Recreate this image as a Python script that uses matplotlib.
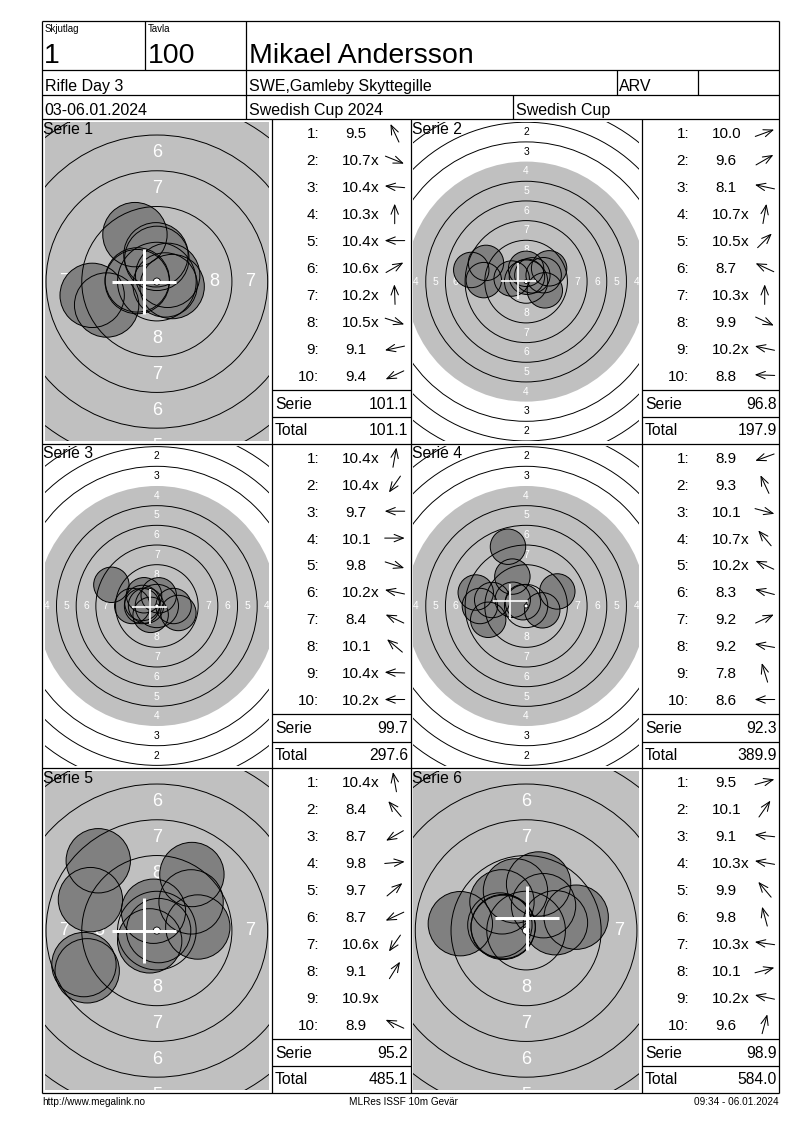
import numpy as np
import matplotlib.pyplot as plt
from matplotlib.patches import Circle

plt.rcParams['font.family'] = ['Liberation Sans', 'DejaVu Sans']

W, H = 800, 1130

# header fields
relay = "1"
lane = "100"
shooter = "Mikael Andersson"
event = "Rifle Day 3"
club = "SWE,Gamleby Skyttegille"
shooter_class = "ARV"
dates = "03-06.01.2024"
competition = "Swedish Cup 2024"
cup = "Swedish Cup"
footer_left = "http://www.megalink.no"
footer_mid = "MLRes ISSF 10m Gevär"
footer_right = "09:34 - 06.01.2024"

# shot values per series ("x" = inner ten) and direction of each hit (deg, 0 = right, ccw)
s1_scores = ["9.5", "10.7x", "10.4x", "10.3x", "10.4x", "10.6x", "10.2x", "10.5x", "9.1", "9.4"]
s1_angles = [115, -22, 175, 90, 180, 30, 92, -18, 192, 205]
s2_scores = ["10.0", "9.6", "8.1", "10.7x", "10.5x", "8.7", "10.3x", "9.9", "10.2x", "8.8"]
s2_angles = [20, 30, 168, 80, 45, 155, 90, -25, 168, 178]
s3_scores = ["10.4x", "10.4x", "9.7", "10.1", "9.8", "10.2x", "8.4", "10.1", "10.4x", "10.2x"]
s3_angles = [80, 235, 180, 0, -18, 168, 155, 140, 178, 180]
s4_scores = ["8.9", "9.3", "10.1", "10.7x", "10.2x", "8.3", "9.2", "9.2", "7.8", "8.6"]
s4_angles = [200, 115, -15, 130, 155, 165, 25, 170, 107, 180]
s5_scores = ["10.4x", "8.4", "8.7", "9.8", "9.7", "8.7", "10.6x", "9.1", "10.9x", "8.9"]
s5_angles = [100, 130, 210, 5, 40, 205, 235, 58, None, 155]
s6_scores = ["9.5", "10.1", "9.1", "10.3x", "9.9", "9.8", "10.3x", "10.1", "10.2x", "9.6"]
s6_angles = [15, 55, 174, 170, 130, 105, 172, 15, 168, 75]

# group centre (white cross) in mm, read from the targets
mpi_x = [-0.9, -1.0, -0.9, -2.0, -0.9, 0.05]
mpi_y = [0.0, 0.05, -0.1, 0.6, 0.0, 0.9]

series_scores = [s1_scores, s2_scores, s3_scores, s4_scores, s5_scores, s6_scores]
series_angles = [s1_angles, s2_angles, s3_angles, s4_angles, s5_angles, s6_angles]
# pixels per mm of each target view
zoom = [14.3, 7.87, 7.87, 7.87, 14.3, 14.3]

GRAY = '#c0c0c0'
SHOT = '#808080'
PELLET_R = 2.25

fig = plt.figure(figsize=(W / 100, H / 100), dpi=100)
ax = fig.add_axes([0, 0, 1, 1])
ax.set_xlim(0, W)
ax.set_ylim(H, 0)
ax.axis('off')
ax.set_zorder(10)
ax.patch.set_alpha(0)

LW = 0.9


def hline(y, x0, x1):
    ax.plot([x0, x1], [y, y], color='black', lw=LW, solid_capstyle='butt')


def vline(x, y0, y1):
    ax.plot([x, x], [y0, y1], color='black', lw=LW, solid_capstyle='butt')


L, R, T, B = 42, 779.3, 21, 1093
row_tops = [119.3, 443.7, 768.2]
row_h = 324.6
cells = [(42, 271.7, 410.5), (410.5, 641.7, 779.3)]

# frame
hline(T, L, R)
hline(B, L, R)
vline(L, T, B)
vline(R, T, B)
for y in [70.3, 95.3] + row_tops:
    hline(y, L, R)
vline(144.7, T, 70.3)
vline(246.3, T, row_tops[0])
vline(616.7, 70.3, 95.3)
vline(698.3, 70.3, 95.3)
vline(513.3, 95.3, row_tops[0])
for x in [271.7, 410.5, 641.7]:
    vline(x, row_tops[0], B)

# header text
ax.text(44.7, 31.5, "Skjutlag", fontsize=7, va='baseline')
ax.text(147.5, 31.5, "Tavla", fontsize=7, va='baseline')
ax.text(44, 62.7, relay, fontsize=20.5, va='baseline')
ax.text(147.5, 62.7, lane, fontsize=20.5, va='baseline')
ax.text(249, 62.7, shooter, fontsize=20.5, va='baseline')
ax.text(44.7, 91, event, fontsize=11.5, va='baseline')
ax.text(249, 91, club, fontsize=11.5, va='baseline')
ax.text(619, 91, shooter_class, fontsize=11.5, va='baseline')
ax.text(44.7, 115.3, dates, fontsize=11.5, va='baseline')
ax.text(249, 115.3, competition, fontsize=11.5, va='baseline')
ax.text(516, 115.3, cup, fontsize=11.5, va='baseline')

ax.text(42.5, 1105, footer_left, fontsize=7.2, va='baseline')
ax.text(403, 1105, footer_mid, fontsize=7.2, va='baseline', ha='center')
ax.text(779, 1105, footer_right, fontsize=7.2, va='baseline', ha='right')


def ring_radius(n):
    return 0.25 + (10 - n) * 2.5


def draw_target(i, x0, x1, y0, y1):
    sc = zoom[i]
    pad = 2.7
    px0, px1, py0, py1 = x0 + pad, x1 - pad, y0 + pad, y1 - pad
    w, h = px1 - px0, py1 - py0
    t = fig.add_axes([px0 / W, 1 - py1 / H, w / W, h / H])
    t.set_xlim(-w / 2 / sc, w / 2 / sc)
    t.set_ylim(-h / 2 / sc, h / 2 / sc)
    t.axis('off')

    t.add_patch(Circle((0, 0), ring_radius(4), fc=GRAY, ec='none', zorder=1))
    fs = sc * 0.88 + 0.5
    for n in range(1, 9):
        rr = ring_radius(n) - 1.25
        col = 'white' if n >= 4 else 'black'
        for dx, dy in [(0, rr), (0, -rr), (-rr, 0), (rr, 0)]:
            t.text(dx, dy, str(n), color=col, fontsize=fs, ha='center',
                   va='center', zorder=2, clip_on=True)

    xs, ys = [], []
    for s, a in zip(series_scores[i], series_angles[i]):
        v = float(s.rstrip('x'))
        r = (10.95 - v) * 2.5
        ang = np.radians(a if a is not None else 0)
        xs.append(r * np.cos(ang))
        ys.append(r * np.sin(ang))
    for x, y in zip(xs, ys):
        t.add_patch(Circle((x, y), PELLET_R, fc=SHOT, ec='none', zorder=3))
    for x, y in zip(xs, ys):
        t.add_patch(Circle((x, y), PELLET_R, fill=False, ec='black', lw=0.7, zorder=4))

    for n in [1, 2, 3, 5, 6, 7, 8, 9]:
        t.add_patch(Circle((0, 0), ring_radius(n), fill=False, ec='black', lw=0.7, zorder=5))
    t.add_patch(Circle((0, 0), 0.25, fc='white', ec='black', lw=0.6, zorder=6))

    mx, my = mpi_x[i], mpi_y[i]
    clw = 0.15 * sc
    t.plot([mx - PELLET_R, mx + PELLET_R], [my, my], color='white', lw=clw,
           solid_capstyle='butt', zorder=7)
    t.plot([mx, mx], [my - PELLET_R, my + PELLET_R], color='white', lw=clw,
           solid_capstyle='butt', zorder=7)


total = 0.0
for i in range(6):
    row, colx = divmod(i, 2)
    y0 = row_tops[row]
    y1 = y0 + row_h if row < 2 else B
    tx0, sx0, sx1 = cells[colx]
    draw_target(i, tx0, sx0, y0, y1)

    label_x = 43.3 if colx == 0 else 412
    ax.text(label_x, y0 + 14.7, "Serie %d" % (i + 1), fontsize=11.3, va='baseline')

    vals = []
    for k, (s, a) in enumerate(zip(series_scores[i], series_angles[i])):
        yc = y0 + 13.7 + 26.9 * k
        base = yc + 5.5
        ax.text(sx0 + 47.5, base, "%d:" % (k + 1), fontsize=11, ha='right', va='baseline')
        num = s.rstrip('x')
        vals.append(float(num))
        cx = sx0 + 84.5
        ax.text(cx, base, num, fontsize=11, ha='center', va='baseline')
        if s.endswith('x'):
            ax.text(cx + 15, base, "x", fontsize=11, ha='left', va='baseline')
        if a is not None:
            ang = np.radians(a)
            ax_c = sx0 + 123
            dx, dy = 10 * np.cos(ang), -10 * np.sin(ang)
            ax.annotate("", xy=(ax_c + dx, yc + dy), xytext=(ax_c - dx, yc - dy),
                        arrowprops=dict(arrowstyle='->,head_length=0.55,head_width=0.22',
                                        lw=0.75, color='black', shrinkA=0, shrinkB=0,
                                        mutation_scale=12))

    serie = sum(vals)
    total += serie
    hline(y0 + 270.4, sx0, sx1)
    hline(y0 + 298, sx0, sx1)
    ax.text(sx0 + 3.3, y0 + 289.3, "Serie", fontsize=11.3, va='baseline')
    ax.text(sx1 - 2.5, y0 + 289.3, "%.1f" % serie, fontsize=11.3, ha='right', va='baseline')
    ax.text(sx0 + 3.3, y0 + 316, "Total", fontsize=11.3, va='baseline')
    ax.text(sx1 - 2.5, y0 + 316, "%.1f" % total, fontsize=11.3, ha='right', va='baseline')

fig.savefig('out.png', dpi=100)
